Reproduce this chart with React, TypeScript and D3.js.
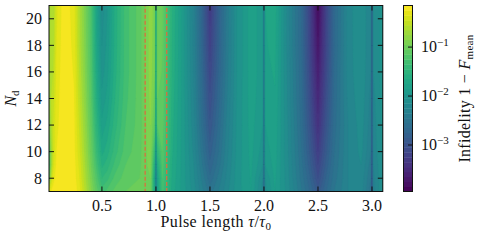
import React from "react";
import * as d3 from "d3";

// pulse length samples (tau / tau0), not evenly spaced: denser around the sharp dips
const tau = [0.01, 0.03, 0.05, 0.08, 0.15, 0.24, 0.29, 0.34, 0.40, 0.45, 0.50, 0.55, 0.62, 0.72, 0.85, 0.95, 0.987, 1.0, 1.013, 1.06, 1.15, 1.25, 1.35, 1.42, 1.50, 1.58, 1.65, 1.75, 1.88, 1.987, 2.0, 2.013, 2.10, 2.22, 2.35, 2.42, 2.50, 2.58, 2.65, 2.78, 2.90, 2.987, 3.0, 3.013, 3.10];
const nd = [7, 8, 9, 10, 12, 14, 16, 18, 21];

// log10 of the infidelity 1 - F_mean, one row per N_d
const logInfNd7 = [-0.4, -0.25, -0.2, -0.17, -0.17, -0.18, -0.3, -0.55, -0.85, -1.1, -1.3, -1.22, -1.12, -1.05, -1.0, -1.0, -1.7, -2.5, -1.8, -1.3, -1.7, -1.9, -2.1, -2.3, -2.5, -2.35, -2.2, -2.0, -1.85, -2.2, -2.9, -2.1, -1.85, -2.1, -2.45, -2.65, -2.9, -2.65, -2.45, -2.25, -2.2, -2.5, -3.3, -2.3, -2.05];
const logInfNd8 = [-1.2, -0.55, -0.3, -0.2, -0.17, -0.19, -0.35, -0.6, -0.92, -1.2, -1.45, -1.38, -1.22, -1.1, -1.05, -0.95, -1.75, -2.6, -1.8, -1.25, -1.68, -1.9, -2.13, -2.36, -2.62, -2.42, -2.24, -2.0, -1.84, -2.15, -2.9, -2.05, -1.83, -2.12, -2.5, -2.72, -3.05, -2.72, -2.5, -2.25, -2.18, -2.45, -3.3, -2.28, -2.05];
const logInfNd9 = [-1.5, -0.75, -0.4, -0.22, -0.17, -0.2, -0.38, -0.64, -0.98, -1.3, -1.58, -1.5, -1.32, -1.15, -1.07, -0.9, -1.6, -2.6, -1.65, -1.2, -1.66, -1.9, -2.15, -2.42, -2.72, -2.5, -2.28, -2.01, -1.83, -2.05, -2.85, -1.95, -1.81, -2.13, -2.53, -2.8, -3.15, -2.8, -2.53, -2.25, -2.15, -2.4, -3.25, -2.25, -2.05];
const logInfNd10 = [-1.35, -0.75, -0.45, -0.25, -0.17, -0.21, -0.42, -0.68, -1.03, -1.38, -1.68, -1.6, -1.4, -1.2, -1.08, -0.88, -1.4, -2.55, -1.45, -1.15, -1.64, -1.9, -2.18, -2.47, -2.8, -2.55, -2.31, -2.02, -1.82, -2.0, -2.85, -1.9, -1.8, -2.14, -2.56, -2.86, -3.25, -2.86, -2.56, -2.25, -2.12, -2.35, -3.25, -2.22, -2.03];
const logInfNd12 = [-0.95, -0.6, -0.45, -0.28, -0.17, -0.22, -0.47, -0.74, -1.1, -1.5, -1.82, -1.72, -1.5, -1.25, -1.1, -0.85, -1.1, -2.5, -1.15, -1.1, -1.62, -1.9, -2.22, -2.55, -2.93, -2.63, -2.35, -2.03, -1.81, -1.95, -2.85, -1.85, -1.78, -2.15, -2.6, -2.95, -3.4, -2.95, -2.6, -2.25, -2.1, -2.3, -3.2, -2.2, -2.02];
const logInfNd14 = [-0.85, -0.55, -0.5, -0.3, -0.17, -0.24, -0.52, -0.8, -1.16, -1.6, -1.92, -1.82, -1.56, -1.28, -1.1, -0.82, -1.0, -2.5, -1.05, -1.08, -1.6, -1.9, -2.25, -2.6, -3.03, -2.69, -2.39, -2.04, -1.8, -1.92, -2.85, -1.8, -1.76, -2.17, -2.63, -3.02, -3.52, -3.02, -2.63, -2.22, -2.08, -2.28, -3.2, -2.18, -2.0];
const logInfNd16 = [-0.8, -0.55, -0.55, -0.32, -0.17, -0.26, -0.56, -0.84, -1.2, -1.67, -2.0, -1.88, -1.6, -1.3, -1.1, -0.8, -0.95, -2.5, -1.0, -1.06, -1.58, -1.9, -2.27, -2.64, -3.12, -2.74, -2.42, -2.05, -1.8, -1.9, -2.85, -1.78, -1.74, -2.18, -2.65, -3.08, -3.62, -3.08, -2.65, -2.2, -2.07, -2.25, -3.2, -2.15, -2.0];
const logInfNd18 = [-0.8, -0.55, -0.6, -0.35, -0.17, -0.28, -0.6, -0.87, -1.23, -1.72, -2.05, -1.92, -1.62, -1.3, -1.1, -0.8, -0.92, -2.5, -1.0, -1.05, -1.57, -1.9, -2.29, -2.67, -3.2, -2.77, -2.44, -2.05, -1.8, -1.9, -2.85, -1.76, -1.72, -2.2, -2.67, -3.12, -3.72, -3.12, -2.67, -2.2, -2.06, -2.25, -3.2, -2.15, -2.0];
const logInfNd21 = [-0.8, -0.55, -0.65, -0.38, -0.18, -0.3, -0.62, -0.9, -1.25, -1.76, -2.12, -1.96, -1.63, -1.3, -1.1, -0.8, -0.9, -2.5, -1.0, -1.05, -1.56, -1.9, -2.3, -2.7, -3.3, -2.8, -2.45, -2.05, -1.8, -1.9, -2.85, -1.75, -1.7, -2.2, -2.68, -3.15, -3.85, -3.15, -2.68, -2.2, -2.05, -2.25, -3.2, -2.15, -2.0];
const logInfRows = [logInfNd7, logInfNd8, logInfNd9, logInfNd10, logInfNd12, logInfNd14, logInfNd16, logInfNd18, logInfNd21];

const xTicks = [0.5, 1.0, 1.5, 2.0, 2.5, 3.0];
const yTicks = [8, 10, 12, 14, 16, 18, 20];
const cbarTicks = [-3, -2, -1];
const highlight = [0.9, 1.1];

export default function App() {
  const width = 478;
  const height = 241;
  const plot = { left: 49, right: 382.8, top: 5.5, bottom: 191.5 };
  const cbar = { left: 403.5, right: 412.5 };
  const font = "'Liberation Serif', 'Times New Roman', serif";
  const fs = 16;
  const tickLen = 5;

  const xScale = d3.scaleLinear().domain([0.01, 3.1]).range([plot.left, plot.right]);
  const yScale = d3.scaleLinear().domain([7, 21]).range([plot.bottom, plot.top]);

  // grid index -> data value, the grid is uneven
  const colToTau = d3.scaleLinear().domain(d3.range(tau.length)).range(tau);
  const rowToNd = d3.scaleLinear().domain(d3.range(nd.length)).range(nd);

  const levels = d3.range(39).map((i) => -3.95 + i * 0.1);
  const cScale = d3.scaleLinear().domain([levels[0], levels[levels.length - 1]]).range([plot.bottom, plot.top]);
  const bandColor = (i) => d3.interpolateViridis((i + 0.5) / (levels.length - 1));

  const contours = d3.contours()
    .size([tau.length, nd.length])
    .thresholds(levels.slice(0, -1))(logInfRows.flat());

  const project = d3.geoTransform({
    point: function (x, y) {
      this.stream.point(xScale(colToTau(x - 0.5)), yScale(rowToNd(y - 0.5)));
    },
  });
  const path = d3.geoPath(project);

  const plotW = plot.right - plot.left;
  const plotH = plot.bottom - plot.top;

  return (
    <svg width={width} height={height} style={{ display: "block", position: "absolute", left: 0, top: 0, background: "white" }} fontFamily={font}>
      <defs>
        <clipPath id="plot-clip">
          <rect x={plot.left} y={plot.top} width={plotW} height={plotH} />
        </clipPath>
      </defs>

      <g clipPath="url(#plot-clip)">
        <rect x={plot.left} y={plot.top} width={plotW} height={plotH} fill={bandColor(0)} />
        {contours.map((c, i) => (
          <path key={i} d={path(c)} fill={bandColor(i)} stroke={bandColor(i)} strokeWidth={0.3} />
        ))}
        <rect
          x={xScale(highlight[0])}
          y={plot.top}
          width={xScale(highlight[1]) - xScale(highlight[0])}
          height={plotH}
          fill="none"
          stroke="#e2693c"
          strokeWidth={1.2}
          strokeDasharray="4,2"
        />
      </g>

      {/* frame and ticks */}
      <rect x={plot.left} y={plot.top} width={plotW} height={plotH} fill="none" stroke="#111" strokeWidth={1} />
      {xTicks.map((t) => (
        <g key={t}>
          <line x1={xScale(t)} x2={xScale(t)} y1={plot.bottom} y2={plot.bottom - tickLen} stroke="#111" strokeWidth={1} />
          <line x1={xScale(t)} x2={xScale(t)} y1={plot.top} y2={plot.top + tickLen} stroke="#111" strokeWidth={1} />
          <text x={xScale(t)} y={211} fontSize={fs} textAnchor="middle" fill="#111">
            {t.toFixed(1)}
          </text>
        </g>
      ))}
      {yTicks.map((t) => (
        <g key={t}>
          <line x1={plot.left} x2={plot.left + tickLen} y1={yScale(t)} y2={yScale(t)} stroke="#111" strokeWidth={1} />
          <line x1={plot.right} x2={plot.right - tickLen} y1={yScale(t)} y2={yScale(t)} stroke="#111" strokeWidth={1} />
          <text x={42} y={yScale(t) + 5.3} fontSize={fs} textAnchor="end" fill="#111">
            {t}
          </text>
        </g>
      ))}

      <text x={(plot.left + plot.right) / 2} y={227} fontSize={fs} textAnchor="middle" fill="#111" letterSpacing={0.4}>
        Pulse length <tspan fontStyle="italic">τ</tspan>/<tspan fontStyle="italic">τ</tspan>
        <tspan dy={3} fontSize={11}>0</tspan>
      </text>
      <text transform={`translate(16,${(plot.top + plot.bottom) / 2}) rotate(-90)`} fontSize={fs} textAnchor="middle" fill="#111">
        <tspan fontStyle="italic">N</tspan>
        <tspan dy={3} fontSize={11}>d</tspan>
      </text>

      {/* colorbar */}
      {levels.slice(0, -1).map((l, i) => (
        <rect
          key={i}
          x={cbar.left}
          y={cScale(levels[i + 1])}
          width={cbar.right - cbar.left}
          height={cScale(l) - cScale(levels[i + 1]) + 0.4}
          fill={bandColor(i)}
        />
      ))}
      <rect x={cbar.left} y={plot.top} width={cbar.right - cbar.left} height={plotH} fill="none" stroke="#111" strokeWidth={1} />
      {cbarTicks.map((t) => (
        <g key={t}>
          <line x1={cbar.right} x2={cbar.right - 4.5} y1={cScale(t)} y2={cScale(t)} stroke="#111" strokeWidth={1} />
          <text x={421} y={cScale(t) + 5.3} fontSize={fs} fill="#111">
            10<tspan dy={-6.5} fontSize={11}>{"\u2212" + Math.abs(t)}</tspan>
          </text>
        </g>
      ))}
      <text transform={`translate(470,${(plot.top + plot.bottom) / 2}) rotate(-90)`} fontSize={fs} textAnchor="middle" fill="#111" letterSpacing={0.3}>
        Infidelity 1 − <tspan fontStyle="italic">F</tspan>
        <tspan dy={3} fontSize={11}>mean</tspan>
      </text>
    </svg>
  );
}
